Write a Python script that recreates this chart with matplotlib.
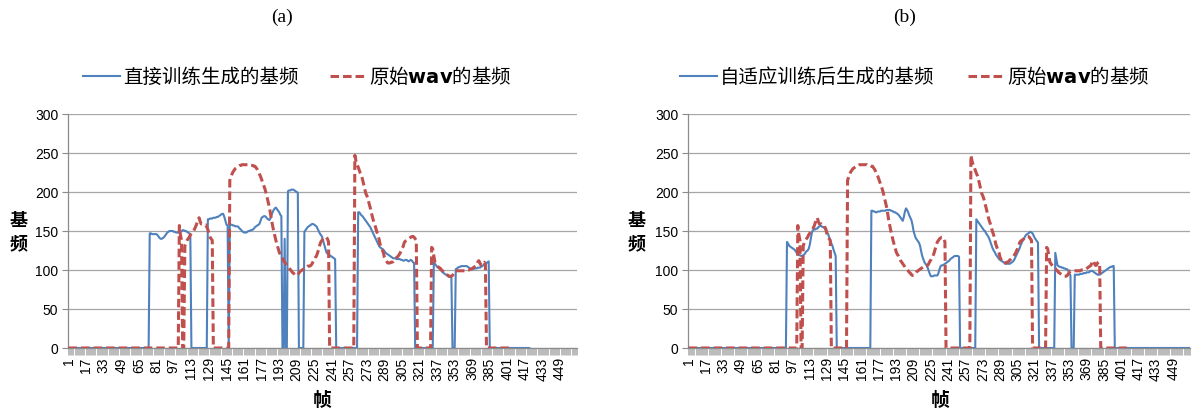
import numpy as np
import matplotlib
matplotlib.use("Agg")
import matplotlib.pyplot as plt
from matplotlib.lines import Line2D

# ---------------- data ----------------
N_FRAMES = 464
TICK_FRAMES = list(range(1, 450, 16))
Y_TICKS = [0, 50, 100, 150, 200, 250, 300]

# pitch of the original wav (voiced runs: start frame, values); unvoiced frames are 0
WAV_LEN = 406
WAV_F0 = [
    (102, [157, 145, 138]),
    (107, [131, 135, 138, 140, 142, 145, 147, 149, 150, 153, 156, 160, 164, 167, 162,
           159, 159, 159, 158, 158, 155, 152, 146, 142, 140, 138]),
    (148, [215, 219, 223, 226, 228, 230, 231, 232, 233, 234, 234, 235, 235, 235, 235,
           235, 235, 235, 235, 234, 234, 234, 233, 233, 231, 229, 226, 223, 220, 216,
           212, 208, 204, 199, 193, 187, 181, 173, 164, 157, 150, 144, 138, 133, 128,
           123, 120, 118, 115, 112, 110, 108, 106, 104, 102, 101, 99, 97, 96, 94,
           93, 93, 94, 96, 98, 99, 100, 101, 102, 103, 104, 105, 105, 105, 106,
           108, 111, 113, 116, 118, 122, 127, 132, 136, 138, 140, 141, 142, 142, 140,
           136]),
    (262, [247, 240, 235, 232, 228, 224, 221, 216, 210, 204, 198, 195, 191, 185, 180,
           174, 168, 163, 159, 154, 149, 145, 140, 133, 129, 126, 122, 116, 113, 111,
           109, 109, 109, 110, 110, 111, 113, 114, 116, 117, 119, 121, 124, 127, 130,
           135, 137, 138, 139, 140, 141, 142, 143, 143, 142, 140, 138]),
    (332, [129, 127, 118, 110, 108, 106, 104, 103, 102, 100, 99, 97, 96, 95, 94,
           93, 92, 92, 92, 93, 95, 97, 99, 99, 99, 99, 99, 99, 99, 99,
           99, 99, 100, 100, 100, 101, 101, 102, 103, 104, 105, 106, 110, 112, 109,
           106, 106, 109, 110, 107]),
]

# pitch generated by direct training
DIRECT_LEN = 421
DIRECT_F0 = [
    (75, [147, 147, 146, 146, 146, 146, 146, 145, 143, 141, 140, 140, 141, 142, 144,
          146, 148, 149, 150, 150, 150, 150, 149, 149, 148, 148, 148, 148, 149, 150,
          151, 151, 150, 150, 149, 148, 147, 146]),
    (128, [165, 165, 166, 166, 166, 167, 167, 167, 168, 168, 169, 170, 171, 172, 172,
           168, 163, 158, 157]),
    (148, [157, 158, 158, 157, 157, 156, 156, 156, 155, 153, 152, 150, 149, 148, 148,
           148, 149, 150, 150, 151, 151, 152, 153, 155, 156, 157, 158, 159, 163, 167,
           168, 169, 169, 168, 166, 165, 164, 166, 170, 174, 177, 179, 180, 178, 176,
           174, 171, 169]),
    (198, [140]),
    (201, [201, 202, 202, 203, 203, 203, 202, 201, 200, 199]),
    (216, [149, 151, 153, 155, 156, 157, 158, 159, 159, 158, 157, 156, 153, 150, 147,
           145, 143, 138, 133, 128, 123, 121, 120, 119, 118, 117, 116, 115, 114]),
    (265, [174, 174, 172, 170, 169, 167, 165, 163, 161, 159, 157, 155, 152, 149, 146,
           143, 140, 137, 134, 131, 129, 128, 127, 126, 124, 122, 121, 120, 119, 118,
           117, 116, 115, 115, 115, 114, 114, 114, 114, 113, 113, 112, 112, 113, 113,
           112, 111, 112, 113, 112, 110, 109]),
    (334, [110, 108, 106, 104, 103, 102, 100, 99, 97, 96, 95, 94, 93, 92, 91, 91, 90]),
    (354, [101, 102, 103, 104, 104, 105, 105, 105, 105, 105, 105, 104, 103, 102, 101,
           101, 101, 102, 102, 102, 103, 103, 103, 104, 105, 106, 107, 108, 109, 110,
           111]),
]

# pitch generated after adaptive training
ADAPT_LEN = 464
ADAPT_F0 = [
    (92, [136, 134, 131, 130, 129, 128, 127, 126, 124, 122, 120, 119, 119, 118, 118,
          119, 120, 122, 124, 125, 127, 132, 140, 148, 151, 152, 152, 153, 153, 155,
          156, 157, 156, 155, 155, 153, 151, 148, 146, 142, 138, 134, 131, 126, 122,
          118]),
    (170, [176, 176, 175, 175, 174, 174, 175, 175, 175, 176, 176, 176, 176, 176, 177,
           177, 177, 177, 176, 176, 175, 174, 174, 173, 172, 171, 169, 167, 165, 163,
           168, 175, 179, 177, 174, 170, 167, 164, 158, 150, 145, 141, 139, 137, 135,
           131, 124, 118, 114, 110, 108, 106, 103, 99, 95, 92, 92, 92, 93, 93,
           93, 93, 96, 101, 105, 106, 106, 107, 108, 109, 110, 111, 112, 114, 115,
           116, 117, 118, 118, 118, 118, 117]),
    (267, [165, 163, 161, 159, 157, 155, 153, 151, 150, 147, 145, 143, 140, 136, 132,
           128, 125, 123, 120, 118, 116, 114, 113, 112, 111, 110, 109, 108, 108, 108,
           108, 108, 109, 110, 111, 113, 116, 119, 122, 125, 128, 132, 135, 138, 140,
           143, 145, 146, 147, 148, 149, 148, 147, 144, 141, 139, 137, 135]),
    (340, [122, 114, 106, 105, 104, 104, 103, 103, 102, 102, 101, 101, 99, 96, 93]),
    (358, [94, 94, 94, 94, 94, 95, 95, 95, 96, 96, 96, 97, 97, 97, 98,
           99, 99, 98, 97, 96, 95, 94, 94, 94, 95, 96, 97, 98, 99, 100,
           101, 102, 103, 104, 104, 105, 105]),
]

LABEL_DIRECT = "直接训练生成的基频"
LABEL_ADAPT = "自适应训练后生成的基频"
LABEL_WAV = r"原始$\mathbf{wav}$的基频"

BLUE = "#4F81BD"
RED = "#C0504D"
GRID = "#A6A6A6"
AXIS = "#8C8C8C"
CJK = ["Noto Sans CJK SC", "DejaVu Sans"]
NUM_FONT = "Liberation Sans"


def build(length, segments):
    vals = np.zeros(length)
    for start, seg in segments:
        vals[start - 1:start - 1 + len(seg)] = seg
    return np.arange(1, length + 1), vals


W, H = 1194, 414
fig = plt.figure(figsize=(W / 100, H / 100), dpi=100)


def px_x(x):
    return x / W


def px_y(y):
    return 1 - y / H


def make_panel(left, right, gen_series, gen_label, title, title_x,
               leg_x0, leg_x1, ylab_x, xlab_x):
    ax = fig.add_axes([px_x(left), px_y(349), px_x(right - left), (349 - 115) / H])
    fx, fy = build(*gen_series)
    wx, wy = build(WAV_LEN, WAV_F0)
    ax.plot(fx, fy, color=BLUE, lw=1.5, solid_joinstyle="round", zorder=3)
    ax.plot(wx, wy, color=RED, lw=2.2, dashes=(2.8, 1.3), zorder=4)

    ax.set_xlim(0.5, N_FRAMES + 0.5)
    ax.set_ylim(0, 300)
    ax.set_yticks(Y_TICKS)
    ax.set_yticklabels([str(v) for v in Y_TICKS], fontfamily=NUM_FONT, fontsize=10)
    ax.set_xticks(TICK_FRAMES)
    ax.set_xticklabels([str(v) for v in TICK_FRAMES], rotation=90,
                       fontfamily=NUM_FONT, fontsize=10)
    ax.set_xticks(np.arange(0.5, N_FRAMES + 1, 1.0), minor=True)
    ax.tick_params(axis="x", which="major", length=0, pad=6)
    ax.tick_params(axis="x", which="minor", length=5, width=0.5, color="#A0A0A0")
    ax.tick_params(axis="y", which="major", length=4, width=0.8, color=AXIS, pad=3)
    ax.yaxis.grid(True, color=GRID, lw=0.9)
    ax.set_axisbelow(True)
    for s in ("top", "right"):
        ax.spines[s].set_visible(False)
    for s in ("left", "bottom"):
        ax.spines[s].set_color(AXIS)
        ax.spines[s].set_linewidth(0.9)

    fig.text(px_x(title_x), px_y(17), title, ha="center", va="center",
             fontfamily="Liberation Serif", fontsize=14)

    ly = px_y(77)
    fig.add_artist(Line2D([px_x(leg_x0), px_x(leg_x0 + 37)], [ly, ly],
                          color=BLUE, lw=1.5, transform=fig.transFigure))
    fig.text(px_x(leg_x0 + 40), ly, gen_label, ha="left", va="center",
             fontfamily=CJK, fontsize=14)
    fig.add_artist(Line2D([px_x(leg_x1), px_x(leg_x1 + 36)], [ly, ly],
                          color=RED, lw=2.2, dashes=(2.8, 1.3),
                          transform=fig.transFigure))
    fig.text(px_x(leg_x1 + 39), ly, LABEL_WAV, ha="left", va="center",
             fontfamily="Noto Sans CJK SC", fontsize=14)

    fig.text(px_x(ylab_x), px_y(232), "基\n频", ha="center", va="center",
             fontfamily=CJK, fontsize=13, fontweight="bold", linespacing=1.25)
    fig.text(px_x(xlab_x), px_y(401), "帧", ha="center", va="center",
             fontfamily=CJK, fontsize=13.5, fontweight="bold")
    return ax


make_panel(68, 577, (DIRECT_LEN, DIRECT_F0), LABEL_DIRECT, "(a)", 282,
           83, 330, 19, 322)
make_panel(688, 1190, (ADAPT_LEN, ADAPT_F0), LABEL_ADAPT, "(b)", 905,
           680, 968, 637, 940)

fig.savefig("out.png", dpi=100)
